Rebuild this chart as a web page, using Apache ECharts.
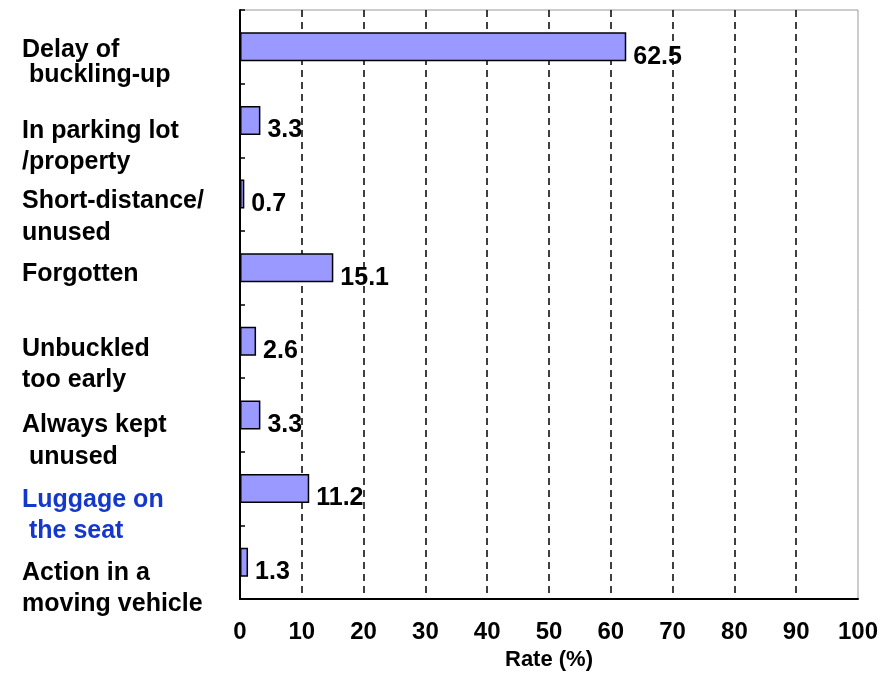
<!DOCTYPE html>
<html>
<head>
<meta charset="utf-8">
<script src="https://cdn.jsdelivr.net/npm/echarts@6/dist/echarts.min.js"></script>
<style>html,body{margin:0;padding:0;background:#fff;}#c{width:896px;height:675px;}</style>
</head>
<body>
<div id="c"></div>
<script>
const categories = [
  'Delay of\n buckling-up',
  'In parking lot\n/property',
  'Short-distance/\nunused',
  'Forgotten',
  'Unbuckled\ntoo early',
  'Always kept\n unused',
  'Luggage on\n the seat',
  'Action in a\nmoving vehicle'
];
const rates = [62.5, 3.3, 0.7, 15.1, 2.6, 3.3, 11.2, 1.3];
const xTicks = [0, 10, 20, 30, 40, 50, 60, 70, 80, 90, 100];
const labelColors = ['#000', '#000', '#000', '#000', '#000', '#000', '#1437CC', '#000'];
const labelShift = [16, 26, 23, 6, 23, 26, 27, 26];
const labelLineHeight = [25, 31, 32, 31, 31, 32, 31, 31];

const FONT = '"Liberation Sans", Arial, sans-serif';

const rich = {};
categories.forEach((c, i) => {
  rich['sp' + i] = {fontSize: 2, lineHeight: labelShift[i] * 2, height: labelShift[i] * 2};
  rich['t' + i] = {color: labelColors[i], lineHeight: labelLineHeight[i], fontSize: 25, fontWeight: 'bold', fontFamily: FONT};
});

const chart = echarts.init(document.getElementById('c'), null, {renderer: 'canvas'});
chart.setOption({
  animation: false,
  backgroundColor: '#fff',
  grid: {
    left: 240, right: 38, top: 10, bottom: 76,
    show: true, borderColor: '#999', borderWidth: 1,
    containLabel: false, outerBoundsMode: 'none'
  },
  xAxis: {
    type: 'value',
    min: xTicks[0], max: xTicks[xTicks.length - 1], interval: 10,
    axisLine: {show: true, onZero: false, lineStyle: {color: '#000', width: 2}},
    axisTick: {show: false},
    splitLine: {
      show: true, showMinLine: false, showMaxLine: false,
      lineStyle: {color: '#000', width: 1.5, type: [7, 5]}
    },
    axisLabel: {
      margin: 21, color: '#000', fontSize: 24, fontWeight: 'bold', fontFamily: FONT,
      showMinLabel: true, showMaxLabel: true, hideOverlap: false
    },
    name: 'Rate (%)',
    nameLocation: 'middle',
    nameGap: 49,
    nameTextStyle: {color: '#000', fontSize: 22, fontWeight: 'bold', fontFamily: FONT}
  },
  yAxis: {
    type: 'category',
    inverse: true,
    data: categories,
    axisLine: {show: true, lineStyle: {color: '#000', width: 2}},
    axisTick: {show: true, inside: true, length: 5, alignWithLabel: false, lineStyle: {color: '#000', width: 1.5}},
    splitLine: {show: false},
    axisLabel: {
      interval: 0,
      hideOverlap: false,
      margin: 218,
      align: 'left',
      verticalAlign: 'middle',
      color: '#000', fontSize: 25, fontWeight: 'bold', fontFamily: FONT,
      formatter: (value, index) => '{sp' + index + '| }\n' +
        value.split('\n').map(l => '{t' + index + '|' + l + '}').join('\n'),
      rich: rich
    }
  },
  series: [{
    type: 'bar',
    data: rates,
    barWidth: 29,
    itemStyle: {color: '#9999FF', borderColor: '#000', borderWidth: 1.5},
    label: {
      show: true, position: 'right', distance: 7, offset: [0, 10],
      color: '#000', fontSize: 25, fontWeight: 'bold', fontFamily: FONT,
      formatter: p => p.value.toFixed(1)
    }
  }]
});
</script>
</body>
</html>
